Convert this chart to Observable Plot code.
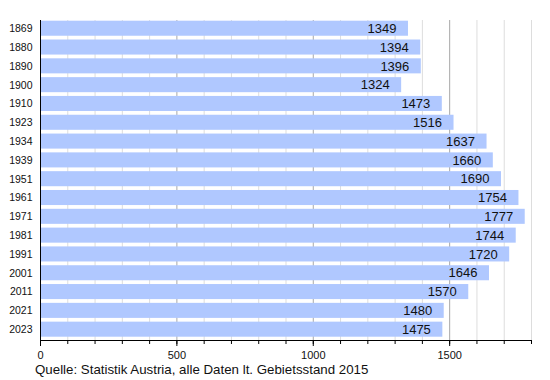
<!DOCTYPE html>
<html>
<head>
<meta charset="utf-8">
<script src="https://cdn.jsdelivr.net/npm/d3@7"></script>
<script src="https://cdn.jsdelivr.net/npm/@observablehq/plot@0.6"></script>
<style>
  html, body { margin: 0; padding: 0; background: white; }
  #caption { font-family: "Liberation Sans", Arial, sans-serif; font-size: 13.3px; line-height: 15px; color: #111; padding-left: 35px; }
</style>
</head>
<body>
<div id="chart"></div>
<div id="caption">Quelle: Statistik Austria, alle Daten lt. Gebietsstand 2015</div>
<script>
const years = ["1869","1880","1890","1900","1910","1923","1934","1939","1951","1961","1971","1981","1991","2001","2011","2021","2023"];
const population = [1349,1394,1396,1324,1473,1516,1637,1660,1690,1754,1777,1744,1720,1646,1570,1480,1475];
const xTickLabels = [0, 500, 1000, 1500];

const data = years.map((y, i) => ({year: y, value: population[i]}));
const minorTicks = d3.range(0, 1801, 100);
const minorGrid = minorTicks.filter(v => v % 500 !== 0);

const chart = Plot.plot({
  width: 550,
  height: 362,
  marginLeft: 40,
  marginRight: 19,
  marginTop: 20,
  marginBottom: 22,
  x: {domain: [0, 1800], axis: null},
  y: {domain: years, axis: null, range: [20.7, 336.7], paddingInner: 0.2, paddingOuter: 0, round: false},
  style: {fontFamily: "'Liberation Sans', Arial, sans-serif", background: "white", color: "black", overflow: "visible"},
  marks: [
    Plot.ruleX(minorGrid, {stroke: "#dddddd", strokeWidth: 1}),
    Plot.ruleX(xTickLabels.slice(1), {stroke: "#a8a8a8", strokeWidth: 1}),
    Plot.barX(data, {x: "value", y: "year", fill: "#b0c8ff"}),
    Plot.text(data, {x: "value", y: "year", text: d => String(d.value), textAnchor: "end", dx: -12, fontSize: 13, fill: "#111"}),
    Plot.frame({anchor: "left", stroke: "black"}),
    Plot.frame({anchor: "bottom", stroke: "black"}),
    Plot.axisY({tickSize: 0, tickPadding: 8, fontSize: 10.5, label: null, fill: "#111"}),
    Plot.axisX(minorTicks, {tickSize: 4, tickFormat: () => "", label: null}),
    Plot.axisX(xTickLabels, {tickSize: 6, tickPadding: 5, fontSize: 11, label: null, fill: "#111", tickFormat: d => String(d)})
  ]
});
document.getElementById("chart").appendChild(chart);
</script>
</body>
</html>
